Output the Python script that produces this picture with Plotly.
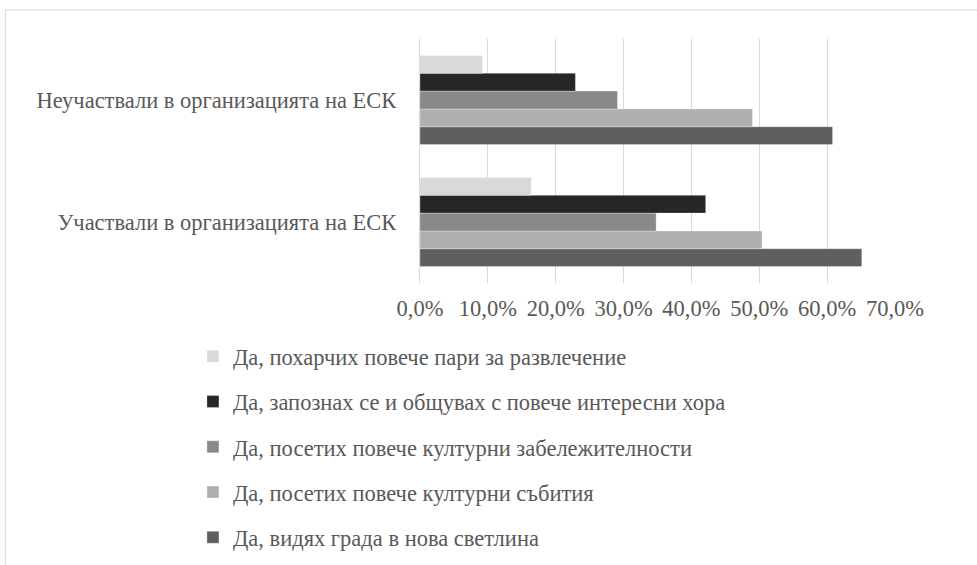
import plotly.graph_objects as go

categories = ["Участвали в организацията на ЕСК", "Неучаствали в организацията на ЕСК"]

series_names = [
    "Да, видях града в нова светлина",
    "Да, посетих повече културни събития",
    "Да, посетих повече културни забележителности",
    "Да, запознах се и общувах с повече интересни хора",
    "Да, похарчих повече пари за развлечение",
]
series_values = [
    [0.651, 0.608],
    [0.504, 0.490],
    [0.348, 0.291],
    [0.421, 0.229],
    [0.164, 0.092],
]
series_colors = ["#5f5f5f", "#b0b0b0", "#898989", "#262626", "#d9d9d9"]

x_tickvals = [0, 0.1, 0.2, 0.3, 0.4, 0.5, 0.6, 0.7]

FONT = "Liberation Serif, Times New Roman, serif"
TXT = "#595959"
FS = 22.5

fig = go.Figure()
n = len(series_names)
for i, (name, vals, col) in enumerate(zip(series_names, series_values, series_colors)):
    fig.add_trace(go.Bar(
        y=categories, x=vals, name=name, orientation="h",
        marker=dict(color=col, line=dict(color="rgba(255,255,255,0.6)", width=0.5)),
        legendgroup=f"g{i}", legendrank=n - i,
    ))

fig.update_layout(
    width=977, height=565,
    barmode="group", bargap=0.27, bargroupgap=0,
    separators=", ",
    plot_bgcolor="white", paper_bgcolor="white",
    font=dict(family=FONT, size=FS, color=TXT),
    margin=dict(l=419.5, r=81.5, t=39, b=282, autoexpand=False),
    xaxis=dict(
        range=[0, 0.7], tickvals=x_tickvals, tickformat=".1%",
        showgrid=True, gridcolor="#d9d9d9", gridwidth=1.3,
        zeroline=False, showline=False, ticks="",
        ticklabelstandoff=9, tickfont=dict(family=FONT, size=FS, color=TXT),
    ),
    yaxis=dict(
        range=[-0.5, 1.5], showgrid=False, zeroline=False,
        showline=True, linecolor="#d9d9d9", linewidth=1.3, ticks="",
        ticklabelstandoff=18, tickfont=dict(family=FONT, size=FS, color=TXT),
    ),
    legend=dict(
        orientation="v", traceorder="grouped", tracegroupgap=13,
        x=-0.478, xanchor="left", y=-0.214, yanchor="top",
        font=dict(family=FONT, size=FS, color=TXT),
        bgcolor="rgba(0,0,0,0)",
    ),
    showlegend=True,
)

fig.add_shape(type="rect", xref="paper", yref="paper",
              x0=(4 - 419.5) / 476, x1=(990 - 419.5) / 476,
              y0=(283 - 600) / 244, y1=(283 - 10) / 244,
              line=dict(color="#d9d9d9", width=1), fillcolor="rgba(0,0,0,0)", layer="below")

fig.write_html("out.html", config={"displayModeBar": False},
               post_script="document.body.style.margin='0';document.body.style.overflow='hidden';")
